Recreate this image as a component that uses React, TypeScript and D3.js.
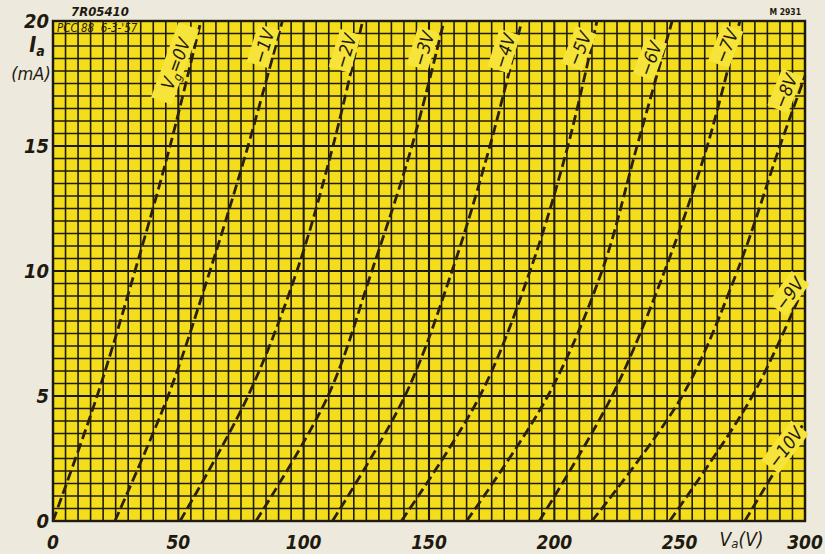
import React from "react";
import * as d3 from "d3";

// Anode voltage Va (V) at anode current levels Ia (mA) for each grid voltage
const gridVolts = [0, -1, -2, -3, -4, -5, -6, -7, -8, -9, -10];
const curveVa: number[][] = [
  [0, 17.6, 32.7, 46.7, 59],
  [24.7, 45.9, 62.6, 77.8, 91.5],
  [50.7, 77.8, 97.3, 111.7, 123.5],
  [81, 109.7, 127.2, 143.2, 156],
  [111.5, 140.4, 159.2, 174.3, 187],
  [139, 170.3, 190.3, 205.4, 217],
  [165, 197.4, 219, 233, 247],
  [194, 223, 244, 261, 274],
  [215, 251, 273, 290, 300],
  [246, 279, 300],
  [276, 300],
];
const curveIa: number[][] = [
  [0, 5, 10, 15, 20],
  [0, 5, 10, 15, 20],
  [0, 5, 10, 15, 20],
  [0, 5, 10, 15, 20],
  [0, 5, 10, 15, 20],
  [0, 5, 10, 15, 20],
  [0, 5, 10, 15, 20],
  [0, 5, 10, 15, 20],
  [0, 5, 10, 15, 17.8],
  [0, 5, 9.5],
  [0, 4],
];
const labelTexts = ["=0V", "−1V", "−2V", "−3V", "−4V", "−5V", "−6V", "−7V", "−8V", "−9V", "−10V"];
const labelVa = [48.7, 83.8, 116.5, 147.6, 179.9, 209.8, 238.1, 268.4, 292, 293.6, 292];
const labelIa = [18.3, 19.0, 18.8, 18.9, 18.8, 18.9, 18.5, 19.0, 17.2, 9.1, 2.96];
const labelAngle = [-70, -73, -73, -73, -72, -68, -70, -68, -68, -54, -53];

const xTicks = [0, 50, 100, 150, 200, 250, 300];
const yTicks = [0, 5, 10, 15, 20];

const W = 825;
const H = 554;
const M = { left: 53, right: 20, top: 21, bottom: 33 };

export default function App() {
  const x = d3.scaleLinear().domain([0, 300]).range([M.left, W - M.right]);
  const y = d3.scaleLinear().domain([0, 20]).range([H - M.bottom, M.top]);
  const vGrid = d3.range(0, 300.01, 5);
  const hGrid = d3.range(0, 20.01, 0.5);
  const line = d3
    .line<[number, number]>()
    .x((d) => x(d[0]))
    .y((d) => y(d[1]))
    .curve(d3.curveCatmullRom.alpha(0.5));
  const yellow = "#f4de1c";
  const patch = "#f6e43a";
  const ink = "#1f1a0e";
  const font = "'DejaVu Sans Condensed', 'DejaVu Sans', sans-serif";

  return (
    <svg width={W} height={H} style={{ position: "absolute", left: 0, top: 0, background: "#ede9dd" }}>
      <rect x={0} y={0} width={W} height={H} fill="#ede9dd" />
      <rect x={x(0)} y={y(20)} width={x(300) - x(0)} height={y(0) - y(20)} fill={yellow} />
      {vGrid.map((v, i) => (
        <line key={"v" + i} x1={x(v)} x2={x(v)} y1={y(0)} y2={y(20)} stroke={ink}
          strokeWidth={i % 10 === 0 ? 2.1 : 1.6} />
      ))}
      {hGrid.map((h, i) => (
        <line key={"h" + i} x1={x(0)} x2={x(300)} y1={y(h)} y2={y(h)} stroke={ink}
          strokeWidth={i % 10 === 0 ? 2.1 : 1.6} />
      ))}
      <rect x={x(0)} y={y(20)} width={x(300) - x(0)} height={y(0) - y(20)} fill="none" stroke={ink} strokeWidth={2.4} />
      {gridVolts.map((g, k) => {
        const pts = curveVa[k].map((v, j) => [v, curveIa[k][j]] as [number, number]);
        return (
          <path key={"c" + g} d={line(pts) || ""} fill="none" stroke="#2a2012" strokeWidth={2.8}
            strokeDasharray="10 4.5" />
        );
      })}
      {gridVolts.map((g, k) => {
        const cx = x(labelVa[k]);
        const cy = y(labelIa[k]);
        const isZero = k === 0;
        const w = isZero ? 80 : labelTexts[k].length * 10.5 + 8;
        return (
          <g key={"l" + g} transform={`translate(${cx},${cy}) rotate(${labelAngle[k]})`}>
            <rect x={-w / 2} y={-11} width={w} height={22} fill={patch} />
            <text x={0} y={7} textAnchor="middle" fontFamily={font} fontStyle="italic"
              fontSize={18} fill={ink}>
              {isZero ? (
                <>
                  <tspan>V</tspan>
                  <tspan fontSize={12} dy={4}>g</tspan>
                  <tspan dy={-4}>=0V</tspan>
                </>
              ) : (
                labelTexts[k]
              )}
            </text>
          </g>
        );
      })}
      {yTicks.map((t) => (
        <text key={"yt" + t} x={x(0) - 4} y={y(t) + 7} textAnchor="end" fontFamily={font}
          fontStyle="italic" fontWeight="bold" fontSize={20} fill={ink}>
          {t}
        </text>
      ))}
      {xTicks.map((t) => (
        <text key={"xt" + t} x={x(t)} y={H - 5} textAnchor="middle" fontFamily={font}
          fontStyle="italic" fontWeight="bold" fontSize={19} fill={ink}>
          {t}
        </text>
      ))}
      <text x={x(0) - 16} y={52} textAnchor="middle" fontFamily={font} fontStyle="italic"
        fontWeight="bold" fontSize={21} fill={ink}>
        I<tspan fontSize={14} dy={4}>a</tspan>
      </text>
      <text x={x(0) - 22} y={80} textAnchor="middle" fontFamily={font} fontStyle="italic"
        fontSize={18} fill={ink}>
        (mA)
      </text>
      <text x={x(0) + 8 + (x(300) - x(0)) * 0.905} y={H - 8} textAnchor="middle" fontFamily={font}
        fontStyle="italic" fontSize={19} fill={ink}>
        V<tspan fontSize={13} dy={2}>a</tspan><tspan dy={-2}>(V)</tspan>
      </text>
      <text x={x(0) + 18} y={16} fontFamily={font} fontStyle="italic" fontWeight="bold" fontSize={13} fill={ink}>
        7R05410
      </text>
      <text x={x(0) + 4} y={y(20) + 11} fontFamily={font} fontStyle="italic" fontSize={11.5} fill={ink}
        style={{ whiteSpace: "pre" }} xmlSpace="preserve">
        PCC 88  6-3-'57
      </text>
      <text x={W - 24} y={15} textAnchor="end" fontFamily={font} fontWeight="bold" fontSize={8.5} fill={ink}>
        M 2931
      </text>
    </svg>
  );
}
